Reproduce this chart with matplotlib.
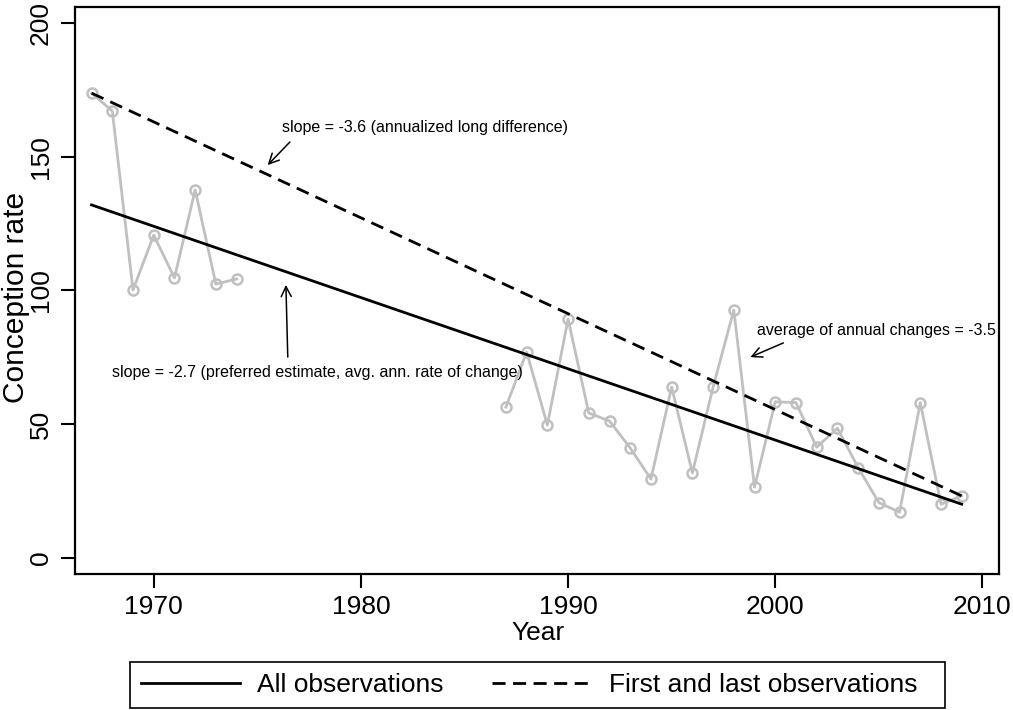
import numpy as np
import matplotlib
matplotlib.use("Agg")
import matplotlib.pyplot as plt
from matplotlib.patches import Rectangle

plt.rcParams['font.family'] = ['Liberation Sans', 'DejaVu Sans']

years = [1967, 1968, 1969, 1970, 1971, 1972, 1973, 1974,
         1987, 1988, 1989, 1990, 1991, 1992, 1993, 1994, 1995, 1996, 1997, 1998,
         1999, 2000, 2001, 2002, 2003, 2004, 2005, 2006, 2007, 2008, 2009]
rates = [173.8, 167.1, 100.2, 120.7, 104.7, 137.6, 102.4, 104.3,
         56.4, 77.0, 49.7, 89.3, 54.2, 51.2, 41.1, 29.5, 63.9, 31.8, 63.9, 92.7,
         26.5, 58.4, 58.1, 41.4, 48.5, 33.8, 20.7, 17.1, 58.1, 20.1, 23.2]

fit_years = [1967, 2009]
fit_values = [132.0, 20.1]

xticks = [1970, 1980, 1990, 2000, 2010]
yticks = [0, 50, 100, 150, 200]

W, H = 1013, 710
fig = plt.figure(figsize=(W / 100, H / 100), dpi=100)
ax = fig.add_axes([75 / W, (H - 574) / H, (999 - 75) / W, (574 - 7) / H])

yrs = np.array(years)
vals = np.array(rates)
breaks = np.where(np.diff(yrs) > 1)[0] + 1
for seg_y, seg_v in zip(np.split(yrs, breaks), np.split(vals, breaks)):
    ax.plot(seg_y, seg_v, color='#c0c0c0', lw=2, marker='o', ms=7.2,
            mfc='none', mec='#c0c0c0', mew=1.8, zorder=2)

ax.plot(fit_years, fit_values, color='black', lw=2, label='All observations', zorder=3)
ax.plot([years[0], years[-1]], [rates[0], rates[-1]], color='black', lw=2,
        ls=(0, (4.7, 2.7)), label='First and last observations', zorder=3)

ax.set_xlim(1966.2, 2010.8)
ax.set_ylim(-6, 206)
ax.set_xticks(xticks)
ax.set_yticks(yticks)
ax.tick_params(axis='both', direction='out', length=10, width=1.5, labelsize=19)
ax.tick_params(axis='x', pad=5)
ax.tick_params(axis='y', pad=6)
for lab in ax.get_yticklabels():
    lab.set_rotation(90)
    lab.set_va('center')
for s in ax.spines.values():
    s.set_linewidth(1.6)

ax.set_xlabel('Year', fontsize=19, va='center')
ax.xaxis.set_label_coords(0.501, -0.104)
ax.set_ylabel('Conception rate', fontsize=21.5, va='center')
ax.yaxis.set_label_coords(-0.064, 0.487)

arrow = dict(arrowstyle='->', color='black', lw=1.1, shrinkA=0, shrinkB=0,
             mutation_scale=18)
ax.annotate('', xy=(1975.5, 146.9), xytext=(1976.57, 155.5), arrowprops=arrow)
ax.text(1983.07, 161.1, 'slope = -3.6 (annualized long difference)', fontsize=11.5,
        ha='center', va='center')
ax.annotate('', xy=(1976.38, 102.1), xytext=(1976.47, 75.1), arrowprops=arrow)
ax.text(1977.9, 69.5, 'slope = -2.7 (preferred estimate, avg. ann. rate of change)',
        fontsize=11.5, ha='center', va='center')
ax.annotate('', xy=(1998.8, 75.1), xytext=(2000.39, 80.4), arrowprops=arrow)
ax.text(1999.13, 85.2, 'average of annual changes = -3.5', fontsize=11.5,
        ha='left', va='center')

leg = fig.legend(loc='center', bbox_to_anchor=(529 / W, 1 - 685 / H), ncol=2,
                 fontsize=19, frameon=False,
                 handlelength=3.75, columnspacing=1.85, borderpad=0.3,
                 handletextpad=0.65, borderaxespad=0)
fig.patches.append(Rectangle((130 / W, 1 - 708 / H), 815 / W, 46 / H,
                             fill=False, edgecolor='black', lw=1.2,
                             transform=fig.transFigure, figure=fig))

fig.savefig('out.png', dpi=100)
